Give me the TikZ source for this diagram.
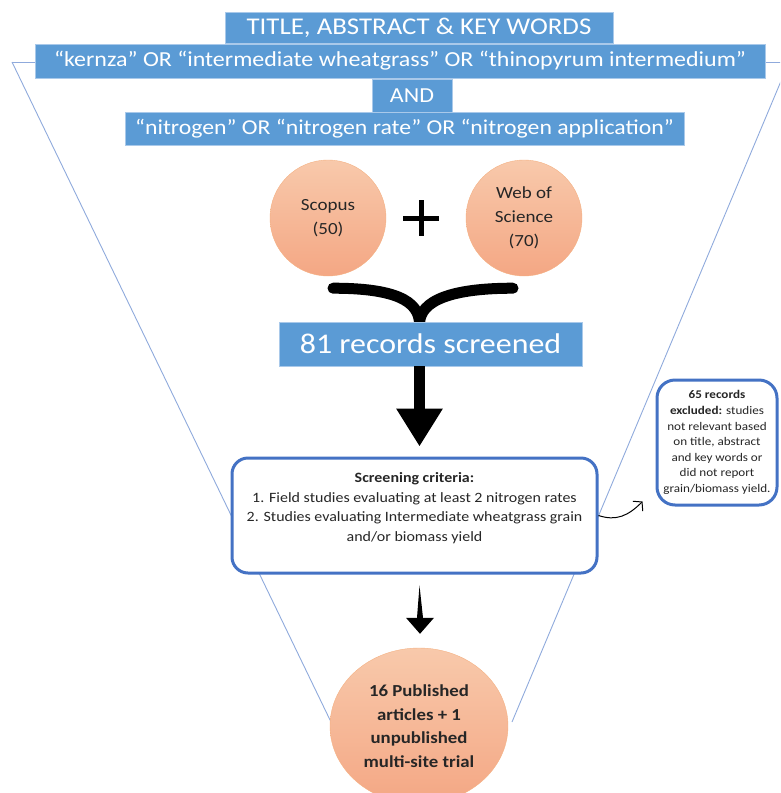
\documentclass[tikz,border=0pt]{standalone}
\usepackage{fontspec}
\setmainfont[FakeStretch=1.12]{Carlito}
\usepackage{tikz}
\usetikzlibrary{arrows.meta,shapes.geometric,calc}
\definecolor{kBlue}{HTML}{5B9BD5}
\definecolor{kEdge}{HTML}{A9C9EA}
\definecolor{kFunnel}{HTML}{8FAADC}
\definecolor{kFrame}{HTML}{4472C4}
\definecolor{kPeachTop}{HTML}{F8C9AB}
\definecolor{kPeachBot}{HTML}{F4A784}
\definecolor{kPeachEdge}{HTML}{F4B183}
\definecolor{kInk}{HTML}{262626}
\begin{document}
\begin{tikzpicture}[x=1pt,y=-1pt,
  keybar/.style={draw=kEdge, fill=kBlue, text=white, inner sep=0pt, line width=0.8pt},
  dbcircle/.style={circle, draw=kPeachEdge, top color=kPeachTop, bottom color=kPeachBot, text=kInk, align=center, inner sep=0pt, minimum size=116pt, font=\fontsize{17}{24}\selectfont},
  critbox/.style={draw=kFrame, line width=3pt, rounded corners=16pt, fill=white, align=center, text=kInk, inner sep=0pt},
  funnel/.style={draw=kFunnel, line width=0.9pt}]
  \useasboundingbox (0,0) rectangle (780,793);
  \clip (0,0) rectangle (780,793);
  \draw[funnel] (12,62) -- (789,62);
  \draw[funnel] (12,62) -- (331,722);
  \draw[funnel] (789,62) -- (512,722);

  \node[keybar, minimum width=388pt, minimum height=31pt, font=\fontsize{24}{26}\selectfont] (title) at (419,27.5) {TITLE, ABSTRACT \& KEY WORDS};
  \node[keybar, minimum width=730pt, minimum height=34pt, font=\fontsize{21.4}{24}\selectfont] (kernza) at (400,61) {“kernza” OR “intermediate wheatgrass” OR “thinopyrum intermedium”};
  \node[keybar, minimum width=80pt, minimum height=34pt, font=\fontsize{21.4}{24}\selectfont] (and) at (412,96) {AND};
  \node[keybar, minimum width=559pt, minimum height=33pt, font=\fontsize{21.2}{24}\selectfont] (nitro) at (404.5,128.5) {“nitrogen” OR “nitrogen rate” OR “nitrogen application”};

  \node[dbcircle] (scopus) at (328,218) {Scopus\\(50)};
  \node[dbcircle] (wos) at (524,218) {Web of\\Science\\(70)};
  \coordinate (plus) at (421,218);
  \draw[line width=5pt] ($(plus)+(-18,0)$) -- ($(plus)+(18,0)$) ($(plus)+(0,-18)$) -- ($(plus)+(0,18)$);

  \coordinate (join) at (419.5,324);
  \draw[line width=11pt, line cap=round] ($(scopus.south)+(5,12)$) .. controls +(60,0) and +(0,-24) .. (join)
    .. controls +(0,-24) and +(-60,0) .. ($(wos.south)+(-11,12)$);
  \node[keybar, minimum width=303pt, minimum height=44pt, font=\fontsize{28.5}{32}\selectfont] (rec) at (430.5,344) {81 records screened};

  \node[critbox, minimum width=365pt, minimum height=115pt, font=\fontsize{14.25}{19.5}\selectfont] (crit) at (414.5,515.5)
    {\textbf{Screening criteria:}\\1. Field studies evaluating at least 2 nitrogen rates\\2. Studies evaluating Intermediate wheatgrass grain\\and/or biomass yield\\[-2pt]\mbox{}};
  \node[critbox, rounded corners=18pt, minimum width=120pt, minimum height=125pt, font=\fontsize{11.7}{15.6}\selectfont] (excl) at (717,442.5)
    {\textbf{65 records}\\\textbf{excluded:} studies\\not relevant based\\on title, abstract\\and key words or\\did not report\\grain/biomass yield.};

  \node[ellipse, draw=kPeachEdge, top color=kPeachTop, bottom color=kPeachBot, text=kInk, align=center, inner sep=0pt, minimum width=178pt, minimum height=156pt, font=\bfseries\fontsize{16.8}{23.5}\selectfont] (pub) at (419,726)
    {16 Published\\articles + 1\\unpublished\\multi-site trial};

  \draw[line width=11pt, -{Triangle[width=44pt,length=38pt]}] ($(rec.south)+(-11,0)$) -- ($(crit.north)+(5,-10)$);
  \coordinate (a2top) at ($(crit.south)+(5,11)$);
  \coordinate (a2tip) at ($(pub.north)+(1,-14)$);
  \fill (a2top) -- ($(a2tip)+(3,-16)$) -- ($(a2tip)+(14,-16)$) -- (a2tip) -- ($(a2tip)+(-14,-16)$) -- ($(a2tip)+(-3,-16)$) -- cycle;
  \draw[line width=1pt, -{Straight Barb[length=6pt,width=14pt]}] (crit.east) .. controls +(18,6) and +(-14,14) .. ($(excl.south west)+(-13,-5)$);
\end{tikzpicture}
\end{document}
